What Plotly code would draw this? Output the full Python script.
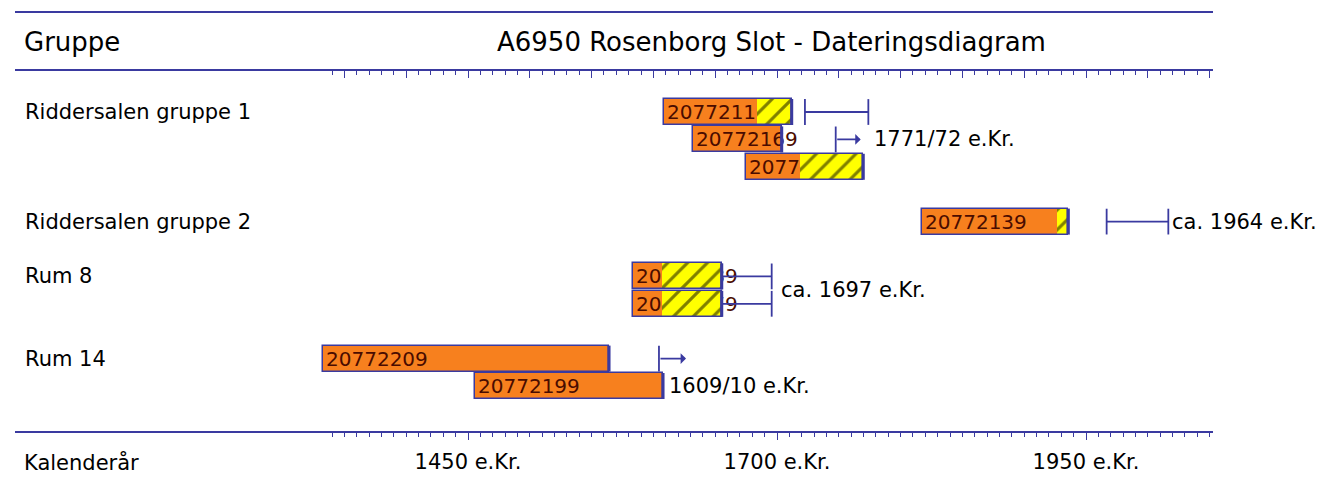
import plotly.graph_objects as go

# ---------------- data ----------------
title_text = "A6950 Rosenborg Slot - Dateringsdiagram"
header_left = "Gruppe"
footer_left = "Kalenderår"

groups = ["Riddersalen gruppe 1", "Riddersalen gruppe 2", "Rum 8", "Rum 14"]
group_rows = [0, 4, 6, 9]

samples = ["20772119", "20772169", "20772159", "20772139",
           "20772189", "20772179", "20772209", "20772199"]
sample_rows = [0, 1, 2, 4, 6, 7, 9, 10]
heart_start = [1608.6, 1632.3, 1674.7, 1817.1, 1583.7, 1583.7, 1332.7, 1455.7]
sap_start = [1683.6, None, 1718.6, 1926.3, 1606.7, 1606.7, None, None]
ring_end = [1711.9, 1703.8, 1769.8, 1935.7, 1655.3, 1655.3, 1564.1, 1607.8]

range_rows = [0, 4, 6, 7]
range_lo = [1722.6, 1966.7, 1655.3, 1655.3]
range_hi = [1773.9, 2016.6, 1695.7, 1695.7]

arrow_rows = [1, 9]
arrow_from = [1747.5, 1604.5]
arrow_to = [1767.7, 1626.4]

date_text = ["1771/72 e.Kr.", "ca. 1964 e.Kr.", "ca. 1697 e.Kr.", "1609/10 e.Kr."]
date_rows = [1, 4, 6.5, 10]
date_anchor = [1767.7, 2016.6, 1695.7, 1607.8]

label_years = [1450, 1700, 1950]
major_ticks = list(range(1350, 2051, 50))
minor_ticks = list(range(1340, 2051, 10))

# ---------------- style ----------------
W, H = 1337, 480
FONT = "DejaVu Sans"
BLUE = "#3a3aa0"
ORANGE = "#f7801e"
YELLOW = "#ffff00"
LABEL = "#4a0c00"
BAR_W = 0.95
HALF = 0.47

def px_x(p):
    return p / W

def px_y(p):
    return 1 - p / H

fig = go.Figure()

# heartwood (orange) segment with sample label
heart_len = [(s if s is not None else e) - h for h, s, e in zip(heart_start, sap_start, ring_end)]
fig.add_trace(go.Bar(
    y=sample_rows, base=heart_start, x=heart_len, orientation="h", width=BAR_W,
    marker=dict(color=ORANGE, line=dict(width=0)),
    text=samples, textposition="inside", insidetextanchor="start", textangle=0,
    constraintext="none", textfont=dict(family=FONT, size=20, color=LABEL),
    hoverinfo="skip", showlegend=False))

# sapwood (yellow hatched) segment
sy, sb, sl = [], [], []
for r, s, e in zip(sample_rows, sap_start, ring_end):
    if s is not None:
        sy.append(r); sb.append(s); sl.append(e - s)
fig.add_trace(go.Bar(
    y=sy, base=sb, x=sl, orientation="h", width=BAR_W,
    marker=dict(color=YELLOW, line=dict(width=0),
                pattern=dict(shape="/", fgcolor="#000000", bgcolor=YELLOW,
                             size=14, solidity=0.22)),
    hoverinfo="skip", showlegend=False))

# outline of the whole bar
fig.add_trace(go.Bar(
    y=sample_rows, base=heart_start, x=[e - h for h, e in zip(heart_start, ring_end)],
    orientation="h", width=BAR_W,
    marker=dict(color="rgba(0,0,0,0)", line=dict(color=BLUE, width=1.5)),
    hoverinfo="skip", showlegend=False))

# thick end marks
ex, ey = [], []
for r, e in zip(sample_rows, ring_end):
    ex += [e, e, None]; ey += [r - BAR_W / 2, r + BAR_W / 2, None]
fig.add_trace(go.Scatter(x=ex, y=ey, mode="lines", line=dict(color=BLUE, width=3),
                         hoverinfo="skip", showlegend=False))

# felling-date range brackets
bx, by = [], []
for r, lo, hi in zip(range_rows, range_lo, range_hi):
    bx += [lo, hi, None, lo, lo, None, hi, hi, None]
    by += [r, r, None, r - HALF, r + HALF, None, r - HALF, r + HALF, None]
for r, a in zip(arrow_rows, arrow_from):
    bx += [a, a, None]
    by += [r - HALF, r + HALF, None]
fig.add_trace(go.Scatter(x=bx, y=by, mode="lines", line=dict(color=BLUE, width=1.8),
                         hoverinfo="skip", showlegend=False))

# invisible trace to carry the top axis
fig.add_trace(go.Scatter(x=[minor_ticks[0]], y=[-100], xaxis="x2", mode="markers",
                         marker=dict(opacity=0), hoverinfo="skip", showlegend=False))

annotations = []
for r, a, t in zip(arrow_rows, arrow_from, arrow_to):
    annotations.append(dict(x=t, y=r, ax=a, ay=r, xref="x", yref="y", axref="x", ayref="y",
                            text="", showarrow=True, arrowhead=1, arrowsize=1,
                            arrowwidth=1.8, arrowcolor=BLUE))

shifts = [11, 2, 7, 4]
for t, r, x, s in zip(date_text, date_rows, date_anchor, shifts):
    annotations.append(dict(x=x, y=r, xref="x", yref="y", text=t, showarrow=False,
                            xanchor="left", yanchor="middle", xshift=s,
                            font=dict(family=FONT, size=21, color="#000000")))

for g, r in zip(groups, group_rows):
    annotations.append(dict(x=px_x(23), y=r, xref="paper", yref="y", text=g, showarrow=False,
                            xanchor="left", yanchor="middle",
                            font=dict(family=FONT, size=21, color="#000000")))

annotations.append(dict(x=px_x(22), y=px_y(42), xref="paper", yref="paper", text=header_left,
                        showarrow=False, xanchor="left", yanchor="middle",
                        font=dict(family=FONT, size=26, color="#000000")))
annotations.append(dict(x=px_x(771), y=px_y(42), xref="paper", yref="paper", text=title_text,
                        showarrow=False, xanchor="center", yanchor="middle",
                        font=dict(family=FONT, size=26, color="#000000")))
annotations.append(dict(x=px_x(22), y=px_y(462), xref="paper", yref="paper", text=footer_left,
                        showarrow=False, xanchor="left", yanchor="middle",
                        font=dict(family=FONT, size=21, color="#000000")))

shapes = []
for yy in (12, 70, 432):
    shapes.append(dict(type="line", xref="paper", yref="paper", x0=px_x(15), x1=px_x(1213),
                       y0=px_y(yy), y1=px_y(yy), line=dict(color=BLUE, width=2)))

x_range = [1450 - 468 / 1.236, 1450 + (W - 468) / 1.236]
ticktext = [f"{v} e.Kr." if v in label_years else "" for v in major_ticks]

axis_common = dict(range=x_range, domain=[0, 1], anchor="free", showline=False,
                   showgrid=False, zeroline=False, ticks="outside", ticklen=7,
                   tickwidth=1, tickcolor=BLUE, tickmode="array", tickvals=major_ticks,
                   minor=dict(tickmode="array", tickvals=minor_ticks, ticks="outside",
                              ticklen=4, tickwidth=1, tickcolor=BLUE, showgrid=False))

fig.update_layout(
    width=W, height=H, margin=dict(l=0, r=0, t=0, b=0),
    paper_bgcolor="white", plot_bgcolor="white",
    barmode="overlay", bargap=0,
    xaxis=dict(**axis_common, position=px_y(432), side="bottom", ticktext=ticktext,
               tickfont=dict(family=FONT, size=21, color="#000000"), ticklabelstandoff=4),
    xaxis2=dict(**axis_common, position=px_y(70), side="bottom", overlaying="x",
                showticklabels=False),
    yaxis=dict(range=[(H - 112) / 27.4, -112 / 27.4], domain=[0, 1], visible=False,
               showgrid=False, zeroline=False),
    annotations=annotations, shapes=shapes, showlegend=False,
)

fig.write_html("out.html", config={"displayModeBar": False},
               post_script="document.body.style.margin='0px';document.body.style.overflow='hidden';")
